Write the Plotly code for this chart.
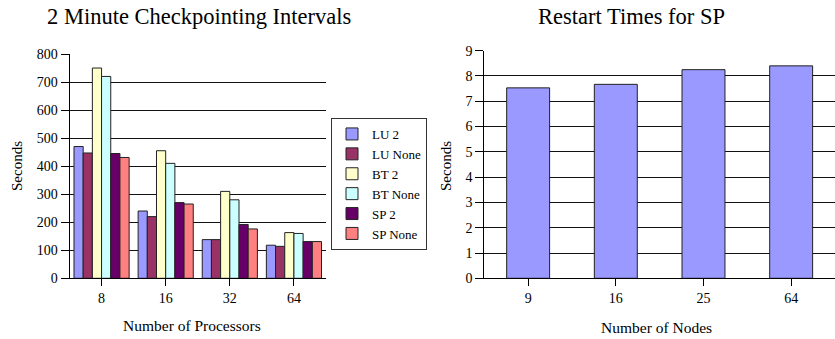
import plotly.graph_objects as go

# Left chart data
processors = ["8", "16", "32", "64"]
series_names = ["LU 2", "LU None", "BT 2", "BT None", "SP 2", "SP None"]
lu_2 = [470, 240, 138, 118]
lu_none = [447, 220, 138, 114]
bt_2 = [750, 455, 310, 163]
bt_none = [720, 410, 280, 160]
sp_2 = [445, 270, 192, 131]
sp_none = [431, 265, 176, 131]
series_colors = ["#9999FF", "#993366", "#FFFFCC", "#CCFFFF", "#660066", "#FF8080"]

# Right chart data
nodes = ["9", "16", "25", "64"]
restart_times = [7.53, 7.67, 8.25, 8.40]

W, H = 835, 339
FONT = "Liberation Serif"

fig = go.Figure()
for name, vals, col in zip(series_names, [lu_2, lu_none, bt_2, bt_none, sp_2, sp_none], series_colors):
    fig.add_trace(go.Bar(x=processors, y=vals, name=name, marker=dict(color=col, line=dict(color="#222222", width=1)),
                         xaxis="x", yaxis="y"))

fig.add_trace(go.Bar(x=nodes, y=restart_times, name="Restart", showlegend=False,
                     marker=dict(color="#9999FF", line=dict(color="#222222", width=1)),
                     width=0.49, xaxis="x2", yaxis="y2"))

def py(p):
    return 1 - p / H

def px(p):
    return p / W

tickfont = dict(family=FONT, size=14, color="black")
xaxis_common = dict(showline=True, linecolor="black", linewidth=1, ticks="outside", ticklen=7,
                    tickcolor="black", automargin=False, tickfont=tickfont, showgrid=False,
                    type="category", range=[-0.5, 3.5])
yaxis_common = dict(showline=True, linecolor="black", linewidth=1, ticks="outside", ticklen=8,
                    tickcolor="black", automargin=False, tickfont=tickfont,
                    showgrid=True, gridcolor="#111111", gridwidth=1, zeroline=False)

fig.update_layout(
    template="none",
    width=W, height=H,
    margin=dict(l=0, r=0, t=0, b=0, pad=0),
    paper_bgcolor="white", plot_bgcolor="white",
    barmode="group", bargap=0.14, bargroupgap=0,
    font=dict(family=FONT, size=13, color="black"),
    xaxis=dict(domain=[px(69.5), px(326)], anchor="y", **xaxis_common),
    yaxis=dict(domain=[py(278.3), py(54)], anchor="x", range=[0, 800], dtick=100, **yaxis_common),
    xaxis2=dict(domain=[px(484.3), 1.0], anchor="y2", **xaxis_common),
    yaxis2=dict(domain=[py(278.3), py(50.7)], anchor="x2", range=[0, 9], dtick=1, **yaxis_common),
    legend=dict(x=px(331), y=py(118), xanchor="left", yanchor="top",
                bordercolor="#333333", borderwidth=1, bgcolor="white",
                font=dict(family=FONT, size=13, color="black"), itemwidth=30,
                tracegroupgap=0),
    showlegend=True,
)

annos = [
    dict(text="2 Minute Checkpointing Intervals", x=px(199), y=py(16), size=22.5),
    dict(text="Restart Times for SP", x=px(631), y=py(16), size=22.5),
    dict(text="Number of Processors", x=px(192), y=py(325.5), size=15.5),
    dict(text="Number of Nodes", x=px(656), y=py(327), size=15.5),
]
for a in annos:
    fig.add_annotation(text=a["text"], x=a["x"], y=a["y"], xref="paper", yref="paper",
                       xanchor="center", yanchor="middle", showarrow=False,
                       font=dict(family=FONT, size=a["size"], color="black"))
for xpos in [17, 446]:
    fig.add_annotation(text="Seconds", x=px(xpos), y=py(166), xref="paper", yref="paper",
                       xanchor="center", yanchor="middle", showarrow=False, textangle=-90,
                       font=dict(family=FONT, size=15, color="black"))

fig.write_html("out.html", config={"displayModeBar": False},
               post_script="document.body.style.margin='0';document.body.style.overflow='hidden';")
